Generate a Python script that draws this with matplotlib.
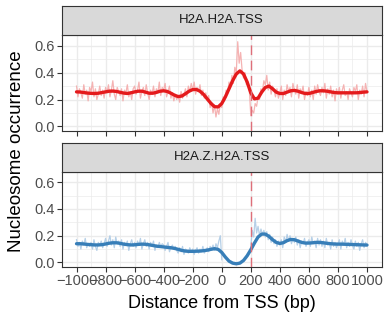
import numpy as np
import matplotlib
matplotlib.use("Agg")
import matplotlib.pyplot as plt

plt.rcParams['font.family'] = ['Liberation Sans', 'DejaVu Sans']

# ---------------- data ----------------
panel_titles = ["H2A.H2A.TSS", "H2A.Z.H2A.TSS"]
raw_colors = ["#F4A6A6", "#A9C8E4"]
smooth_colors = ["#E41A1C", "#377EB8"]

raw_x = list(range(-1000, 1001, 10))
smooth_x = list(range(-1000, 1001, 25))

h2a_raw = [
    .30, .22, .28, .25, .21, .31, .24, .27, .19, .29,
    .26, .33, .22, .28, .20, .24, .30, .23, .27, .21,
    .29, .25, .31, .22, .27, .34, .24, .20, .29, .26,
    .23, .28, .19, .27, .25, .31, .22, .26, .20, .28,
    .30, .24, .27, .33, .21, .26, .29, .23, .31, .25,
    .20, .27, .24, .30, .22, .28, .25, .33, .23, .29,
    .27, .32, .22, .26, .30, .21, .25, .19, .24, .20,
    .23, .18, .26, .21, .24, .28, .22, .30, .26, .32,
    .27, .33, .24, .29, .26, .31, .23, .27, .21, .25,
    .19, .23, .14, .18, .10, .16, .07, .13, .09, .17,
    .14, .22, .19, .27, .24, .33, .29, .38, .32, .44,
    .40, .63, .47, .55, .42, .36, .40, .31, .33, .27,
    .08, .12, .10, .17, .15, .22, .20, .28, .26, .34,
    .31, .38, .27, .33, .24, .30, .27, .22, .28, .21,
    .25, .30, .20, .27, .23, .31, .26, .29, .22, .32,
    .27, .24, .31, .21, .28, .25, .30, .20, .26, .23,
    .29, .22, .27, .20, .30, .24, .31, .26, .23, .29,
    .25, .32, .21, .28, .24, .30, .22, .27, .19, .28,
    .24, .29, .21, .27, .31, .23, .26, .20, .28, .25,
    .22, .29, .26, .31, .20, .27, .24, .30, .22, .32,
    .26,
]

h2az_raw = [
    .17, .12, .15, .10, .16, .13, .18, .11, .14, .12,
    .15, .10, .17, .12, .09, .15, .13, .16, .11, .14,
    .18, .12, .16, .20, .13, .17, .11, .19, .14, .16,
    .12, .17, .10, .15, .13, .16, .09, .14, .17, .12,
    .15, .11, .16, .13, .18, .10, .14, .17, .12, .15,
    .10, .15, .12, .16, .09, .13, .11, .15, .12, .14,
    .13, .09, .12, .15, .08, .11, .13, .10, .12, .09,
    .07, .11, .08, .12, .06, .10, .09, .07, .11, .08,
    .10, .06, .09, .11, .07, .10, .08, .12, .07, .09,
    .11, .08, .12, .10, .13, .09, .14, .11, .16, .20,
    .02, None, None, None, None, None, None, None, None, None,
    None, None, None, None, None, None, None, None, None, None,
    .12, .24, .19, .33, .22, .27, .20, .25, .21, .24,
    .19, .23, .17, .21, .15, .19, .14, .17, .12, .16,
    .13, .17, .11, .19, .15, .21, .16, .20, .14, .18,
    .15, .19, .13, .17, .11, .16, .14, .18, .12, .15,
    .17, .12, .19, .14, .16, .11, .18, .13, .17, .12,
    .16, .11, .18, .13, .15, .10, .17, .12, .15, .11,
    .14, .17, .10, .16, .13, .18, .11, .15, .12, .17,
    .13, .10, .16, .12, .15, .09, .14, .17, .11, .15,
    .13,
]

h2a_smooth = [
    .257, .256, .252, .248, .246, .245, .247, .252, .257, .262,
    .263, .260, .254, .248, .245, .250, .257, .262, .262, .255,
    .247, .247, .253, .262, .265, .260, .247, .232, .222, .226,
    .243, .262, .274, .275, .262, .238, .205, .172, .147, .145,
    .170, .220, .280, .340, .390, .413, .390, .330, .250, .205,
    .210, .255, .290, .300, .280, .255, .245, .245, .255, .265,
    .268, .262, .252, .245, .245, .252, .260, .265, .265, .262,
    .257, .252, .250, .250, .250, .250, .250, .250, .252, .255,
    .257,
]

h2az_smooth = [
    .140, .140, .138, .135, .133, .131, .131, .133, .138, .144,
    .147, .147, .143, .137, .133, .131, .132, .135, .137, .136,
    .132, .127, .122, .119, .116, .113, .110, .105, .098, .090,
    .085, .083, .083, .084, .085, .088, .092, .098, .103, .098,
    .075, .040, .010, -.005, -.010, -.005, .015, .050, .095, .145,
    .190, .212, .212, .195, .170, .150, .142, .148, .163, .172,
    .170, .160, .150, .145, .145, .147, .150, .150, .147, .143,
    .140, .138, .137, .137, .136, .135, .134, .133, .132, .131,
    .130,
]

raw_series = [h2a_raw, h2az_raw]
smooth_series = [h2a_smooth, h2az_smooth]
vline_x = 200
x_ticks = list(range(-1000, 1001, 200))
x_tick_labels = [str(t).replace("-", "\u2212") for t in x_ticks]
y_ticks = [0.0, 0.2, 0.4, 0.6]
y_tick_labels = ["0.0", "0.2", "0.4", "0.6"]

# ---------------- figure ----------------
W, H = 387, 322
fig = plt.figure(figsize=(W / 100, H / 100), dpi=100)

def box(l, t, r, b):
    return [l / W, 1 - b / H, (r - l) / W, (b - t) / H]

panel_l, panel_r = 62, 381.5
panels = [(35, 131), (171.5, 267)]
strips = [(5.7, 35), (142.7, 171.5)]

grey20 = "#333333"
grid_c = "#EBEBEB"

for i in range(2):
    ax = fig.add_axes(box(panel_l, panels[i][0], panel_r, panels[i][1]))
    ax.set_facecolor("white")
    ax.set_xlim(-1100, 1100)
    ax.set_ylim(-0.034, 0.68)
    for gx in range(-1000, 1001, 100):
        ax.axvline(gx, color=grid_c, lw=1.0 if gx % 200 == 0 else 0.5, zorder=0)
    for gy in [0.0, 0.1, 0.2, 0.3, 0.4, 0.5, 0.6]:
        major = round(gy * 10) % 2 == 0
        ax.axhline(gy, color=grid_c, lw=1.0 if major else 0.5, zorder=0)
    rx = np.array(raw_x, dtype=float)
    ry = np.array([np.nan if v is None else v for v in raw_series[i]], dtype=float)
    ax.plot(rx, ry, color=raw_colors[i], lw=0.9, alpha=0.85, zorder=2)
    ax.plot(smooth_x, smooth_series[i], color=smooth_colors[i], lw=2.4,
            solid_capstyle='round', zorder=3)
    ax.axvline(vline_x, color="#DE6F7A", lw=1.0, dashes=(7, 4), zorder=4)
    for s in ax.spines.values():
        s.set_color(grey20)
        s.set_linewidth(0.8)
    ax.set_yticks(y_ticks)
    ax.set_yticklabels(y_tick_labels)
    ax.set_xticks(x_ticks)
    ax.tick_params(axis='both', colors=grey20, length=3.5, width=0.8,
                   labelcolor="#4D4D4D", labelsize=10.5, pad=1.5)
    if i == 0:
        ax.tick_params(axis='x', labelbottom=False)
    else:
        ax.set_xticklabels(x_tick_labels)
    ax.set_axisbelow(True)

    sax = fig.add_axes(box(panel_l, strips[i][0], panel_r, strips[i][1]))
    sax.set_facecolor("#D9D9D9")
    sax.set_xticks([])
    sax.set_yticks([])
    for s in sax.spines.values():
        s.set_color(grey20)
        s.set_linewidth(0.8)
    sax.text(0.5, 0.5, panel_titles[i], ha='center', va='center',
             fontsize=9.5, color="#1A1A1A", transform=sax.transAxes)

fig.text((panel_l + panel_r) / 2 / W, 1 - 304 / H, "Distance from TSS (bp)",
         ha='center', va='center', fontsize=13, color="black")
fig.text(17 / W, 1 - 151 / H, "Nucleosome occurrence", rotation=90,
         ha='center', va='center', fontsize=13.5, color="black")

fig.savefig("out.png", dpi=100)
